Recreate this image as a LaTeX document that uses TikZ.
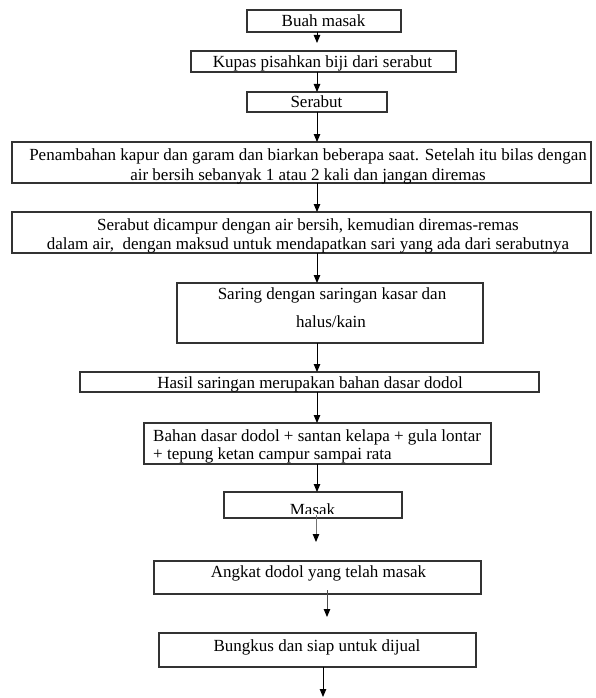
\documentclass[tikz,border=0pt]{standalone}
\usepackage{fontspec}
\setmainfont{Liberation Serif}
\usetikzlibrary{arrows.meta}

\begin{document}
\begin{tikzpicture}[x=1pt,y=-1pt,
  stepbox/.style={draw=black!80,line width=1.2pt,inner sep=0pt,outer sep=0pt,
    minimum width=#1},
  txt/.style={anchor=base,inner sep=0pt,text=black,
    font=\fontsize{17}{20}\selectfont},
  flow/.style={line width=0.9pt,draw=black,
    -{Triangle[length=8pt,width=6.5pt,color=black]}},
  flowgray/.style={flow,draw=black!55}]

\useasboundingbox (0,0) rectangle (595,698);

% process boxes
\node[stepbox=154pt,minimum height=22pt] (b1)  at (324,21)    {};
\node[stepbox=265pt,minimum height=21pt] (b2)  at (323.5,61.5) {};
\node[stepbox=140pt,minimum height=20pt] (b3)  at (317,102)   {};
\node[stepbox=579pt,minimum height=41pt] (b4)  at (301.5,162.5) {};
\node[stepbox=579pt,minimum height=41pt] (b5)  at (301.5,232.5) {};
\node[stepbox=306pt,minimum height=60pt] (b6)  at (330,313)   {};
\node[stepbox=459pt,minimum height=20pt] (b7)  at (309.5,382) {};
\node[stepbox=347pt,minimum height=41pt] (b8)  at (317.5,443.5) {};
\node[stepbox=178pt,minimum height=26pt] (b9)  at (313,505)   {};
\node[stepbox=327pt,minimum height=33pt] (b10) at (317.5,577.5) {};
\node[stepbox=317pt,minimum height=34pt] (b11) at (317.5,650) {};

% box texts
\node[txt] (t1)  at (323.5,27)  {Buah masak};
\node[txt] (t2)  at (322.5,67.5) {Kupas pisahkan biji dari serabut};
\node[txt] (t3)  at (316.5,107) {Serabut};
\node[txt] (t4a) at (308,160)   {Penambahan kapur dan garam dan biarkan beberapa saat. Setelah itu bilas dengan};
\node[txt] (t4b) at (308,180)   {air bersih sebanyak 1 atau 2 kali dan jangan diremas};
\node[txt] (t5a) at (308,230)   {Serabut dicampur dengan air bersih, kemudian diremas-remas};
\node[txt] (t5b) at (308,249.5) {dalam air,\ \ dengan maksud untuk mendapatkan sari yang ada dari serabutnya};
\node[txt] (t6a) at (332,299.5) {Saring dengan saringan kasar dan};
\node[txt] (t6b) at (331,327.5) {halus/kain};
\node[txt] (t7)  at (310,388.5) {Hasil saringan merupakan bahan dasar dodol};
\node[txt,anchor=base west] (t8a) at (153,441.5) {Bahan dasar dodol + santan kelapa + gula lontar};
\node[txt,anchor=base west] (t8b) at (153,459.5) {+ tepung ketan campur sampai rata};
\begin{scope}
  \clip (224,492) rectangle (402,513.5);
  \node[txt] (t9) at (312.5,515) {Masak};
\end{scope}
\node[txt] (t10) at (318.5,577.5) {Angkat dodol yang telah masak};
\node[txt] (t11) at (317,651)   {Bungkus dan siap untuk dijual};

% arrow columns and free ends
\coordinate (c1) at (317,0);
\coordinate (c4) at (323,0);
\coordinate (e1)  at (317,43);
\coordinate (s9)  at (316,515);
\coordinate (e9)  at (316,542);
\coordinate (s10) at (327,590);
\coordinate (e10) at (327,617);
\coordinate (e11) at (323,697);

% connectors
\draw[flow] (b1.south -| c1) -- (e1);
\draw[flow] (b2.south -| c1) -- (b3.north -| c1);
\draw[flow] (b3.south -| c1) -- (b4.north -| c1);
\draw[flow] (b4.south -| c1) -- (b5.north -| c1);
\draw[flow] (b5.south -| c1) -- (b6.north -| c1);
\draw[flow] (b6.south -| c1) -- (b7.north -| c1);
\draw[flow] (b7.south -| c1) -- (b8.north -| c1);
\draw[flow] (b8.south -| c1) -- (b9.north -| c1);
\draw[flowgray] (s9) -- (e9);
\draw[flowgray,draw=black!70] (s10) -- (e10);
\draw[flow] (b11.south -| c4) -- (e11);

\end{tikzpicture}
\end{document}
